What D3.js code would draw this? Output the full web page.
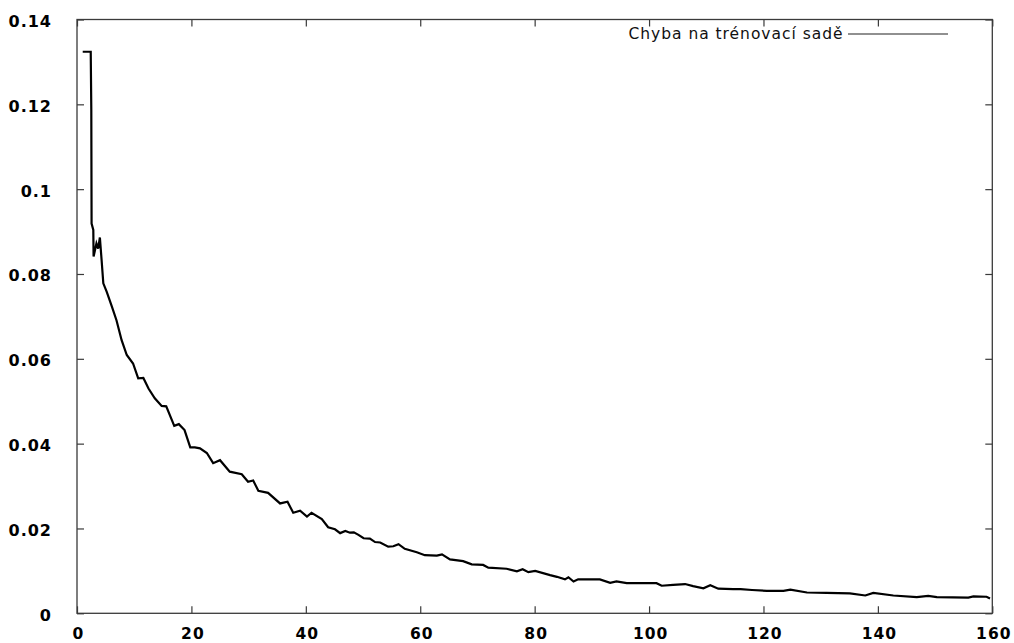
<!DOCTYPE html>
<html>
<head>
<meta charset="utf-8">
<script src="https://cdn.jsdelivr.net/npm/d3@7"></script>
<style>
  html, body { margin: 0; padding: 0; background: #fff; }
  svg { display: block; }
</style>
</head>
<body>
<svg id="chart" width="1014" height="643"></svg>
<script>
// ---- data ----
const epochs = [1, 2.4, 2.5, 2.55, 2.85, 2.9, 3.4, 3.7, 4.0, 4.3, 4.6, 5.2, 6.1, 6.9, 7.8, 8.7, 9.8, 10.7, 11.6, 12.5,
  13.6, 14.8, 15.6, 17.0, 17.8, 18.8, 19.8, 20.6, 21.5, 22.7, 23.8, 25.0, 26.7, 28.8, 29.9, 30.8, 31.7, 33.4, 35.5, 36.8,
  37.8, 39.0, 40.2, 41.0, 42.8, 43.9, 45.1, 46.0, 46.9, 47.7, 48.4, 49.2, 50.1, 51.2, 52.1, 53.0, 54.4, 55.3, 56.2, 57.3,
  59.4, 60.8, 62.9, 63.8, 65.2, 67.5, 69.0, 71.0, 71.9, 75.1, 76.9, 77.9, 78.9, 80.1, 82.7, 83.9, 85.3, 85.9, 86.8, 87.6,
  91.4, 93.2, 94.3, 96.1, 101.3, 102.2, 104.2, 106.3, 107.7, 109.5, 110.7, 112.1, 114.7, 116.0, 118.0, 120.6, 123.5, 124.7,
  127.6, 131.0, 135.1, 137.8, 139.2, 142.7, 146.8, 148.8, 150.3, 155.8, 156.7, 159.0, 159.6];
const trainError = [0.1324, 0.1324, 0.1187, 0.0919, 0.0904, 0.0841, 0.0872, 0.0860, 0.0886, 0.0833, 0.0778, 0.0758, 0.0723,
  0.0691, 0.0644, 0.0609, 0.0589, 0.0554, 0.0555, 0.0530, 0.0507, 0.0489, 0.0488, 0.0442, 0.0446, 0.0432, 0.0391, 0.0391,
  0.0389, 0.0378, 0.0354, 0.0361, 0.0334, 0.0328, 0.0310, 0.0313, 0.0289, 0.0284, 0.0259, 0.0263, 0.0237, 0.0242, 0.0228,
  0.0237, 0.0222, 0.0203, 0.0198, 0.0189, 0.0194, 0.0190, 0.0191, 0.0185, 0.0177, 0.0176, 0.0168, 0.0167, 0.0157, 0.0158,
  0.0163, 0.0152, 0.0144, 0.0137, 0.0136, 0.0139, 0.0127, 0.0123, 0.01155, 0.0114, 0.01075, 0.0105, 0.0099, 0.0104, 0.0097,
  0.0100, 0.0090, 0.0086, 0.0080, 0.0085, 0.0075, 0.0080, 0.0080, 0.0072, 0.0075, 0.0071, 0.0071, 0.0065, 0.0067, 0.0069,
  0.0064, 0.0059, 0.0066, 0.0058, 0.0057, 0.0057, 0.0055, 0.0053, 0.0053, 0.0056, 0.0049, 0.0048, 0.0047, 0.0042, 0.0048,
  0.0042, 0.0038, 0.0041, 0.0038, 0.0037, 0.0040, 0.0039, 0.0035];
const xTicks = [0, 20, 40, 60, 80, 100, 120, 140, 160];
const yTicks = [0, 0.02, 0.04, 0.06, 0.08, 0.1, 0.12, 0.14];
const yTickLabels = ["0", "0.02", "0.04", "0.06", "0.08", "0.1", "0.12", "0.14"];
const seriesName = "Chyba na trénovací sadě";

// ---- layout ----
const svg = d3.select("#chart");
const L = 77, R = 992.3, T = 19.5, B = 613.3;
const x = d3.scaleLinear().domain([0, 160]).range([L, R]);
const y = d3.scaleLinear().domain([0, 0.14]).range([B, T]);
const borderColor = "#3a3a3a";
const tickLen = 7;

svg.append("rect").attr("width", 1014).attr("height", 643).attr("fill", "#fff");

// ticks (mirrored, inward) via d3 axes
const gBottom = svg.append("g").attr("transform", `translate(0,${B})`)
  .call(d3.axisBottom(x).tickValues(xTicks).tickSize(-tickLen).tickFormat(""));
const gTop = svg.append("g").attr("transform", `translate(0,${T})`)
  .call(d3.axisTop(x).tickValues(xTicks).tickSize(-tickLen).tickFormat(""));
const gLeft = svg.append("g").attr("transform", `translate(${L},0)`)
  .call(d3.axisLeft(y).tickValues(yTicks).tickSize(-tickLen).tickFormat(""));
const gRight = svg.append("g").attr("transform", `translate(${R},0)`)
  .call(d3.axisRight(y).tickValues(yTicks).tickSize(-tickLen).tickFormat(""));
[gBottom, gTop, gLeft, gRight].forEach(g => {
  g.select(".domain").remove();
  g.selectAll(".tick line").attr("stroke", borderColor).attr("stroke-width", 1.2);
});

// border
svg.append("rect")
  .attr("x", L).attr("y", T).attr("width", R - L).attr("height", B - T)
  .attr("fill", "none").attr("stroke", borderColor).attr("stroke-width", 1.3);

// tick labels
const labelFont = "'DejaVu Sans', sans-serif";
svg.append("g").selectAll("text").data(xTicks).join("text")
  .attr("x", d => x(d) + 1.5).attr("y", 639)
  .attr("text-anchor", "middle")
  .attr("font-family", labelFont).attr("font-weight", "bold").attr("font-size", 15.5)
  .attr("letter-spacing", 1).attr("fill", "#000")
  .text(d => d);
svg.append("g").selectAll("text").data(yTicks).join("text")
  .attr("x", 52).attr("y", d => y(d) + 7.5)
  .attr("text-anchor", "end")
  .attr("font-family", labelFont).attr("font-weight", "bold").attr("font-size", 16)
  .attr("letter-spacing", 1).attr("fill", "#000")
  .text((d, i) => yTickLabels[i]);

// data line
const pts = epochs.map((e, i) => [e, trainError[i]]);
svg.append("path").datum(pts)
  .attr("fill", "none").attr("stroke", "#000").attr("stroke-width", 2.2)
  .attr("stroke-linejoin", "miter")
  .attr("d", d3.line().x(d => x(d[0])).y(d => y(d[1])).curve(d3.curveLinear));

// legend
svg.append("text")
  .attr("x", 628.5).attr("y", 38.5)
  .attr("text-anchor", "start")
  .attr("font-family", labelFont).attr("font-size", 15.5)
  .attr("textLength", 214).attr("lengthAdjust", "spacing")
  .attr("fill", "#111")
  .text(seriesName);
svg.append("line")
  .attr("x1", 848).attr("x2", 948).attr("y1", 34).attr("y2", 34)
  .attr("stroke", "#222").attr("stroke-width", 1.2);
</script>
</body>
</html>
